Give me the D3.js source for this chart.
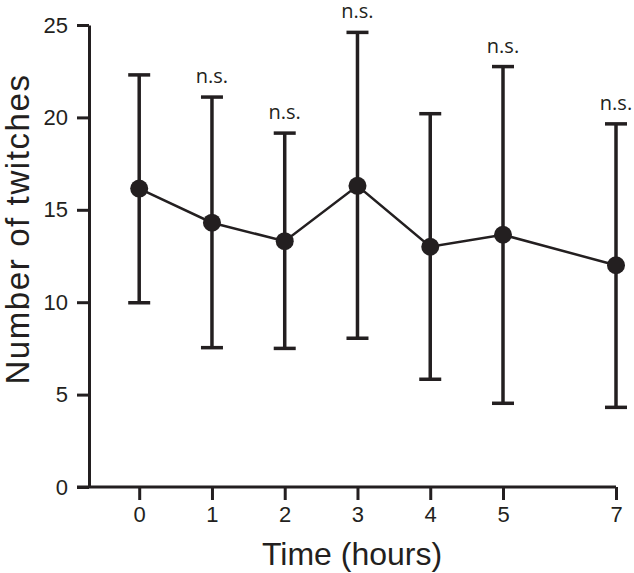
<!DOCTYPE html>
<html>
<head>
<meta charset="utf-8">
<script src="https://cdn.jsdelivr.net/npm/d3@7"></script>
<style>
  body { margin: 0; background: #fff; }
  svg { display: block; }
</style>
</head>
<body>
<div id="chart"></div>
<script>
// data
var hours = [0, 1, 2, 3, 4, 5, 7];
var meanTwitches = [16.15, 14.3, 13.3, 16.3, 13.0, 13.65, 12.0];
var upperErr = [22.3, 21.1, 19.15, 24.6, 20.2, 22.75, 19.65];
var lowerErr = [9.97, 7.54, 7.5, 8.05, 5.83, 4.53, 4.31];
var nsLabel = ["", "n.s.", "n.s.", "n.s.", "", "n.s.", "n.s."];
var yTicks = [0, 5, 10, 15, 20, 25];

var ink = "#231f20";
var W = 634, H = 573;
var margin = {top: 25, right: 18, bottom: 86, left: 89};

var svg = d3.select("#chart")
  .append("svg")
    .attr("width", W)
    .attr("height", H);

// x: 7 sits closer than a full two steps after 5, so use a piecewise scale
var x = d3.scaleLinear()
  .domain([-0.69, 5, 7])
  .range([margin.left, 503, W - margin.right]);

var y = d3.scaleLinear()
  .domain([0, 25])
  .range([H - margin.bottom, margin.top]);

var data = hours.map(function(h, i) {
  return {h: h, m: meanTwitches[i], hi: upperErr[i], lo: lowerErr[i], ns: nsLabel[i]};
});

// axes
var xAxis = svg.append("g")
  .attr("transform", "translate(0," + y(0) + ")")
  .call(d3.axisBottom(x).tickValues(hours).tickSize(13).tickPadding(6).tickSizeOuter(0));

var yAxis = svg.append("g")
  .attr("transform", "translate(" + x(-0.69) + ",0)")
  .call(d3.axisLeft(y).tickValues(yTicks).tickSize(12).tickPadding(9).tickSizeOuter(0));

[xAxis, yAxis].forEach(function(g) {
  g.attr("font-size", null).attr("font-family", null);
  g.select(".domain").attr("stroke", ink).attr("stroke-width", 3);
  g.selectAll(".tick line").attr("stroke", ink).attr("stroke-width", 3);
  g.selectAll(".tick text")
    .attr("fill", ink)
    .style("font-family", "'Liberation Sans', Arial, sans-serif")
    .style("font-size", "22px");
});
// extend the x axis line to the left so it meets the y ticks
xAxis.select(".domain").attr("d", "M" + (x(-0.69) - 12) + ",0H" + x(7));

// error bars
var bars = svg.append("g");
bars.selectAll("line.err")
  .data(data)
  .enter()
  .append("line")
    .attr("class", "err")
    .attr("x1", function(d) { return x(d.h); })
    .attr("x2", function(d) { return x(d.h); })
    .attr("y1", function(d) { return y(d.hi); })
    .attr("y2", function(d) { return y(d.lo); })
    .attr("stroke", ink)
    .attr("stroke-width", 3.5);

["hi", "lo"].forEach(function(k) {
  bars.selectAll("line.cap-" + k)
    .data(data)
    .enter()
    .append("line")
      .attr("class", "cap-" + k)
      .attr("x1", function(d) { return x(d.h) - 11; })
      .attr("x2", function(d) { return x(d.h) + 11; })
      .attr("y1", function(d) { return y(d[k]); })
      .attr("y2", function(d) { return y(d[k]); })
      .attr("stroke", ink)
      .attr("stroke-width", 3.5);
});

// connecting line
var line = d3.line()
  .x(function(d) { return x(d.h); })
  .y(function(d) { return y(d.m); });

svg.append("path")
  .datum(data)
  .attr("d", line)
  .attr("fill", "none")
  .attr("stroke", ink)
  .attr("stroke-width", 2.5);

// dots
svg.append("g")
  .selectAll("circle")
  .data(data)
  .enter()
  .append("circle")
    .attr("cx", function(d) { return x(d.h); })
    .attr("cy", function(d) { return y(d.m); })
    .attr("r", 9)
    .attr("fill", ink);

// n.s. labels
svg.append("g")
  .selectAll("text")
  .data(data.filter(function(d) { return d.ns; }))
  .enter()
  .append("text")
    .attr("x", function(d) { return x(d.h); })
    .attr("y", function(d) { return y(d.hi) - 14; })
    .attr("text-anchor", "middle")
    .attr("fill", ink)
    .style("font-family", "'Open Sans', sans-serif")
    .style("font-size", "20px")
    .text(function(d) { return d.ns; });

// axis titles
svg.append("text")
  .attr("x", 352)
  .attr("y", 565)
  .attr("text-anchor", "middle")
  .attr("fill", ink)
  .style("font-family", "'Liberation Sans', Arial, sans-serif")
  .style("font-size", "32px")
  .text("Time (hours)");

svg.append("text")
  .attr("transform", "translate(29,229) rotate(-90)")
  .attr("text-anchor", "middle")
  .attr("fill", ink)
  .style("font-family", "'Liberation Sans', Arial, sans-serif")
  .style("font-size", "33px")
  .style("letter-spacing", "1.6px")
  .text("Number of twitches");
</script>
</body>
</html>
